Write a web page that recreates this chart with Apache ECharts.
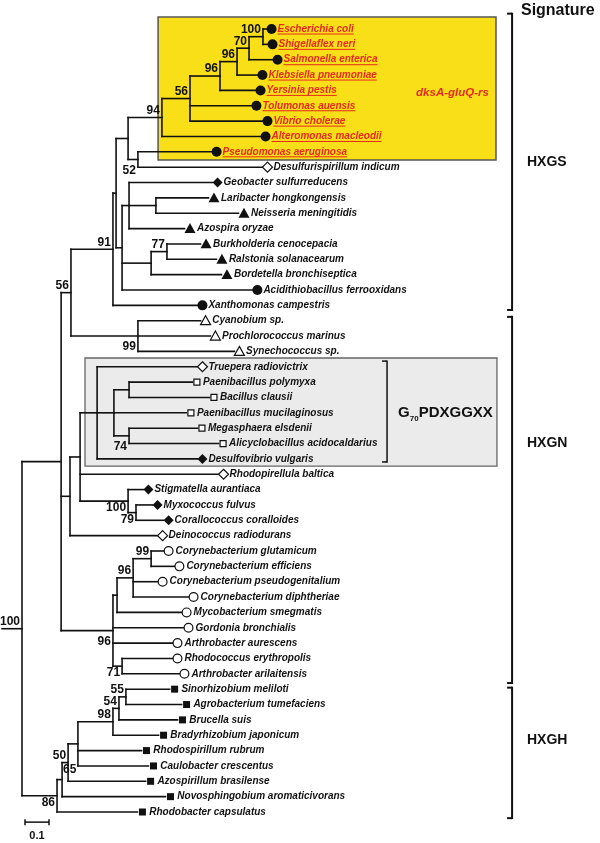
<!DOCTYPE html>
<html><head><meta charset="utf-8">
<script src="https://cdn.jsdelivr.net/npm/echarts@6/dist/echarts.min.js"></script>
<style>html,body{margin:0;padding:0;background:#fff}#c{width:600px;height:843px}</style>
</head><body><div id="c"></div>
<script>
// ---------------- DATA ----------------
const leafNames = ['Escherichia coli','Shigellaflex neri','Salmonella enterica','Klebsiella pneumoniae','Yersinia pestis','Tolumonas auensis','Vibrio cholerae','Alteromonas macleodii','Pseudomonas aeruginosa','Desulfurispirillum indicum','Geobacter sulfurreducens','Laribacter hongkongensis','Neisseria meningitidis','Azospira oryzae','Burkholderia cenocepacia','Ralstonia solanacearum','Bordetella bronchiseptica','Acidithiobacillus ferrooxidans','Xanthomonas campestris','Cyanobium sp.','Prochlorococcus marinus','Synechococcus sp.','Truepera radiovictrix','Paenibacillus polymyxa','Bacillus clausii','Paenibacillus mucilaginosus','Megasphaera elsdenii','Alicyclobacillus acidocaldarius','Desulfovibrio vulgaris','Rhodopirellula baltica','Stigmatella aurantiaca','Myxococcus fulvus','Corallococcus coralloides','Deinococcus radiodurans','Corynebacterium glutamicum','Corynebacterium efficiens','Corynebacterium pseudogenitalium','Corynebacterium diphtheriae','Mycobacterium smegmatis','Gordonia bronchialis','Arthrobacter aurescens','Rhodococcus erythropolis','Arthrobacter arilaitensis','Sinorhizobium meliloti','Agrobacterium tumefaciens','Brucella suis','Bradyrhizobium japonicum','Rhodospirillum rubrum','Caulobacter crescentus','Azospirillum brasilense','Novosphingobium aromaticivorans','Rhodobacter capsulatus'];
const leafMarkers = ['circle','circle','circle','circle','circle','circle','circle','circle','circle','emptyDiamond','diamond','triangle','triangle','triangle','triangle','triangle','triangle','circle','circle','emptyTriangle','emptyTriangle','emptyTriangle','emptyDiamond','emptySquare','emptySquare','emptySquare','emptySquare','emptySquare','diamond','emptyDiamond','diamond','diamond','diamond','emptyDiamond','emptyCircle','emptyCircle','emptyCircle','emptyCircle','emptyCircle','emptyCircle','emptyCircle','emptyCircle','emptyCircle','square','square','square','square','square','square','square','square','square'];
// cumulative distance from root to each tip
const leafDepth = [1.019,1.023,1.044,0.981,0.973,0.956,1.002,0.994,0.790,1.002,0.794,0.777,0.902,0.677,0.744,0.810,0.831,0.960,0.731,0.744,0.785,0.885,0.731,0.710,0.781,0.685,0.731,0.819,0.731,0.819,0.506,0.544,0.590,0.565,0.590,0.635,0.565,0.694,0.665,0.673,0.627,0.627,0.656,0.615,0.665,0.648,0.569,0.498,0.527,0.515,0.598,0.481];
const dksaLeaves = [0,1,2,3,4,5,6,7,8];

const nodeIds = ['nEcSh','nSal','nKle','nYer','n56','n94','n52','n128','nLN','n129','n77','n151','n122','n116','n91','nCy','n56b','nPB','nMA','nFirm','nGrey','nMC','nMyx','n80','n70','nC99','nC96','nMyc','n71','nAct','n61','n55','n54','n98','n78','n68','n62','n57','root'];
const nodeDepth = [1.004,0.946,0.896,0.825,0.700,0.583,0.483,0.442,0.558,0.446,0.604,0.538,0.417,0.392,0.379,0.483,0.204,0.446,0.446,0.383,0.313,0.475,0.442,0.242,0.200,0.538,0.463,0.396,0.417,0.379,0.163,0.433,0.404,0.379,0.233,0.192,0.167,0.146,0];
const nodeChildren = [[0,1],['nEcSh',2],['nSal',3],['nKle',4],['nYer',5,6],['n56',7],[8,9],['n94','n52'],[11,12],[10,'nLN',13],[14,15],['n77',16],['n129','n151',17],['n128','n122'],['n116',18],[19,20,21],['n91','nCy'],[23,24],[26,27],['nPB',25,'nMA'],[22,'nFirm',28],[31,32],[30,'nMC'],['nGrey',29,'nMyx'],['n80',33],[34,35],['nC99',36,37],['nC96',38],[41,42],['nMyc',39,40,'n71'],['n56b','n70','nAct'],[43,44],['n55',45],['n54',46],['n98',47,48],['n78',49],['n68',50],['n62',51],['n61','n57']];
const nodeSupport = ['100','70','96','96','56','94','52','','','','77','','','','91','99','56','','74','','','79','100','','','99','96','','71','96','','55','54','98','','50','65','86','100'];

const signatureNames = ['HXGS','HXGN','HXGH'];
const scaleBarLength = 0.1;

// ---------------- LAYOUT / STYLE ----------------
const supportPlace = {nEcSh:'tl',nSal:'tl',nKle:'tl',nYer:'tl',n56:'tl',n94:'tl',n52:'bl',n77:'tl',n91:'tl',nCy:'bl',n56b:'tl',nMA:'bl',nMC:'l',nMyx:'l',nC99:'tl',nC96:'tl',n71:'l',nAct:'bl',n55:'tl',n54:'tl',n98:'tl',n68:'tl',n62:'tr',n57:'l',root:'tl'};
const rootStub = -0.083;
const bracketSpan = [[-1, 18.3],[18.75, 42.6],[42.9, 51.4]];
const bracketLabelRow = [8.66, 26.97, 46.29];
const bracketX = 2.042, bracketTextX = 2.104;
const FONT = '"Liberation Sans", Arial, Helvetica, sans-serif';
const RED = '#e62a1e';
const INK = '#111';

const markerGeom = {
  circle:{half:5,before:0,after:1}, emptyCircle:{half:5,before:0,after:2},
  diamond:{half:5,before:0,after:1}, emptyDiamond:{half:5,before:0,after:1},
  triangle:{half:5.5,before:0,after:1.5}, emptyTriangle:{half:5,before:0,after:1.7},
  square:{half:3.5,before:1.5,after:3.3}, emptySquare:{half:3,before:1.5,after:3}
};

// ---------------- TREE LAYOUT ----------------
const nodeIndex = {}; nodeIds.forEach((id,i)=>nodeIndex[id]=i);
const yCache = {};
function yOf(c){
  if (typeof c === 'number') return c;
  if (yCache[c] != null) return yCache[c];
  const ch = nodeChildren[nodeIndex[c]];
  const v = (yOf(ch[0]) + yOf(ch[ch.length-1]))/2;
  yCache[c] = v; return v;
}
function xOf(c){ return typeof c === 'number' ? leafDepth[c] : nodeDepth[nodeIndex[c]]; }

const segments = [];
nodeIds.forEach((id,i)=>{
  const ch = nodeChildren[i], x = nodeDepth[i];
  segments.push([x, yOf(ch[0]), x, yOf(ch[ch.length-1])]);
  ch.forEach(c=>segments.push([x, yOf(c), xOf(c), yOf(c)]));
});
segments.push([rootStub, yOf('root'), 0, yOf('root')]);

const measureCtx = document.createElement('canvas').getContext('2d');
measureCtx.font = 'italic bold 10px ' + FONT;

const chart = echarts.init(document.getElementById('c'), null, {renderer:'canvas'});

function txt(x, y, text, o){
  return {type:'text', x:x, y:y, style:Object.assign({text:text, fontFamily:FONT, fontSize:10, fontWeight:'bold', fill:INK,
    align:'left', textAlign:'left', verticalAlign:'middle', textVerticalAlign:'middle'}, o||{})};
}

const option = {
  animation:false,
  backgroundColor:'#fff',
  grid:{left:22, top:29, width:480, height:783},
  xAxis:{type:'value', min:0, max:2, show:false},
  yAxis:{type:'value', min:0, max:51, inverse:true, show:false},
  series:[
    // highlight boxes
    {type:'custom', clip:false, z:1, data:[[0,0]], renderItem:function(p, api){
      const a = api.coord([0.567,-0.78]), b = api.coord([1.975,8.53]);
      const c = api.coord([0.2625,21.43]), d = api.coord([1.979,28.47]);
      return {type:'group', children:[
        {type:'rect', shape:{x:a[0],y:a[1],width:b[0]-a[0],height:b[1]-a[1]}, style:{fill:'#f9df17', stroke:'#555', lineWidth:1.5}},
        {type:'rect', shape:{x:c[0],y:c[1],width:d[0]-c[0],height:d[1]-c[1]}, style:{fill:'#ebebeb', stroke:'#666', lineWidth:1.3}}
      ]};
    }},
    // branches
    {type:'custom', clip:false, z:3, data:segments, encode:{x:[0,2], y:[1,3]}, renderItem:function(p, api){
      const a = api.coord([api.value(0), api.value(1)]), b = api.coord([api.value(2), api.value(3)]);
      return {type:'line', shape:{x1:a[0],y1:a[1],x2:b[0],y2:b[1]}, style:{stroke:INK, lineWidth:1.6, lineCap:'square'}};
    }},
    // leaf markers + names
    {type:'custom', clip:false, z:4, data:leafDepth.map((d,i)=>[d,i]), renderItem:function(p, api){
      const i = p.dataIndex, m = leafMarkers[i], g = markerGeom[m];
      const tip = api.coord([api.value(0), api.value(1)]);
      const cx = tip[0] + g.before + g.half, cy = tip[1], h = g.half;
      const empty = m.indexOf('empty') === 0;
      const st = empty ? {fill:'#fff', stroke:INK, lineWidth:1.2} : {fill:INK};
      let shape;
      if (m === 'circle' || m === 'emptyCircle') shape = {type:'circle', shape:{cx:cx, cy:cy, r: empty ? h-0.6 : h}, style:st};
      else if (m === 'diamond' || m === 'emptyDiamond') shape = {type:'polygon', shape:{points:[[cx,cy-h],[cx+h,cy],[cx,cy+h],[cx-h,cy]]}, style:st};
      else if (m === 'triangle' || m === 'emptyTriangle') shape = {type:'polygon', shape:{points:[[cx,cy-h],[cx+h,cy+h*0.8],[cx-h,cy+h*0.8]]}, style:st};
      else shape = {type:'rect', shape:{x:cx-h, y:cy-h, width:2*h, height:2*h}, style:st};
      const tx = cx + h + g.after;
      const red = dksaLeaves.indexOf(i) >= 0;
      const children = [shape, txt(tx, cy, leafNames[i], {fontStyle:'italic', fill: red ? RED : INK})];
      if (red) {
        const w = measureCtx.measureText(leafNames[i]).width;
        children.push({type:'line', shape:{x1:tx, y1:cy+5, x2:tx+w, y2:cy+5}, style:{stroke:RED, lineWidth:1}});
      }
      return {type:'group', children:children};
    }},
    // bootstrap support values
    {type:'custom', clip:false, z:5, data:nodeIds.map((id,i)=>[nodeDepth[i], yOf(id)]), renderItem:function(p, api){
      const i = p.dataIndex, s = nodeSupport[i];
      if (!s) return null;
      const pt = api.coord([api.value(0), api.value(1)]);
      const pl = supportPlace[nodeIds[i]] || 'tl';
      let x = pt[0]-2, y = pt[1]-7, al = 'right';
      if (pl === 'bl') y = pt[1]+11;
      else if (pl === 'l') y = pt[1]+7;
      else if (pl === 'tr') { x = pt[0]+1; y = pt[1]-10; al = 'left'; }
      return txt(x, y, s, {fontSize:12, align:al, textAlign:al});
    }},
    // decorations: brackets, group labels, scale bar
    {type:'custom', clip:false, z:6, data:[[0,0]], renderItem:function(p, api){
      const kids = [];
      const L = (a,b,w)=>({type:'line', shape:{x1:a[0],y1:a[1],x2:b[0],y2:b[1]}, style:{stroke:INK, lineWidth:w||2, lineCap:'butt'}});
      signatureNames.forEach((nm,k)=>{
        const t = api.coord([bracketX, bracketSpan[k][0]]), b = api.coord([bracketX, bracketSpan[k][1]]);
        kids.push(L([t[0],t[1]-1],[b[0],b[1]+1]));
        kids.push(L([t[0]-5,t[1]],[t[0],t[1]]));
        kids.push(L([b[0]-5,b[1]],[b[0],b[1]]));
        const tp = api.coord([bracketTextX, bracketLabelRow[k]]);
        kids.push(txt(tp[0], tp[1], nm, {fontSize:14}));
      });
      const sg = api.coord([2.079, -1.17]);
      kids.push(txt(sg[0], sg[1], 'Signature', {fontSize:16}));
      // dksA label
      const dk = api.coord([1.642, 4.17]);
      kids.push(txt(dk[0], dk[1], 'dksA-gluQ-rs', {fontSize:11.5, fontStyle:'italic', fill:RED}));
      // inner bracket for G70 motif
      const it = api.coord([1.521, 21.63]), ib = api.coord([1.521, 28.2]);
      kids.push(L([it[0],it[1]-0.7],[ib[0],ib[1]+0.7],1.5));
      kids.push(L([it[0]-5,it[1]],[it[0],it[1]],1.5));
      kids.push(L([ib[0]-5,ib[1]],[ib[0],ib[1]],1.5));
      const gp = api.coord([1.567, 25.03]);
      kids.push({type:'text', x:gp[0], y:gp[1], style:{text:'{a|G}{s|70}{a|PDXGGXX}', align:'left', textAlign:'left', verticalAlign:'middle', textVerticalAlign:'middle',
        rich:{a:{fontFamily:FONT, fontSize:15, fontWeight:'bold', fill:INK}, s:{fontFamily:FONT, fontSize:8, fontWeight:'bold', fill:INK, verticalAlign:'bottom', padding:[0,0,-2,0]}}}});
      // scale bar
      const s0 = api.coord([0.0125, 51.66]), s1 = api.coord([0.0125 + scaleBarLength, 51.66]);
      kids.push(L(s0, s1, 1.5));
      kids.push(L([s0[0], s0[1]-3],[s0[0], s0[1]+3],1.5));
      kids.push(L([s1[0], s1[1]-3],[s1[0], s1[1]+3],1.5));
      kids.push(txt((s0[0]+s1[0])/2, s0[1]+14, String(scaleBarLength), {fontSize:11, align:'center', textAlign:'center'}));
      return {type:'group', children:kids};
    }}
  ]
};
chart.setOption(option);
</script>
</body></html>
